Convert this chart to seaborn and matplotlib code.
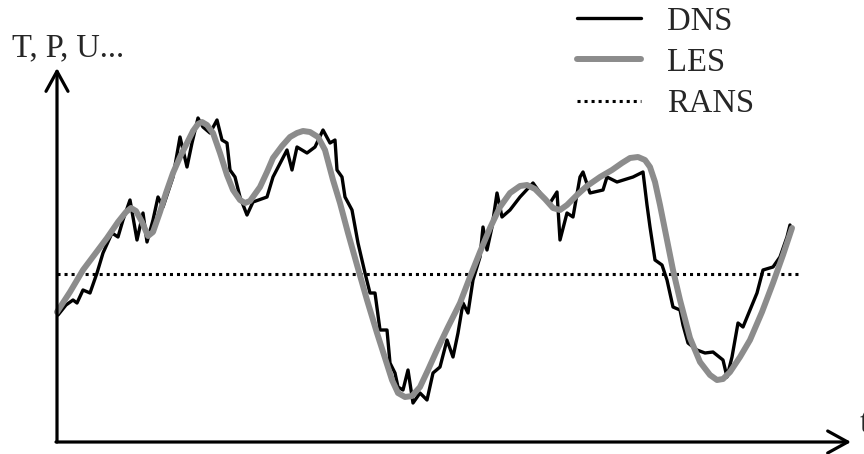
import matplotlib
matplotlib.use("Agg")
import matplotlib.pyplot as plt
import seaborn as sns
from matplotlib.lines import Line2D

# values (time, signal), arbitrary units
dns_t = [1, 9, 16, 20, 26, 33, 40, 46, 55, 61, 66, 73, 80, 86, 90, 96, 101, 106,
         116, 123, 130, 135, 141, 146, 153, 160, 165, 170, 173, 178, 183, 190, 196,
         210, 216, 230, 235, 240, 250, 258, 266, 273, 278, 280, 285, 288, 295, 301,
         308, 313, 318, 323, 330, 333, 338, 341, 346, 351, 356, 363, 370, 376, 383,
         390, 396, 401, 406, 411, 416, 423, 426, 430, 435, 440, 445, 453, 463, 476,
         486, 493, 500, 503, 510, 516, 523, 526, 533, 546, 550, 560, 576, 586, 590,
         593, 598, 605, 610, 616, 623, 626, 631, 640, 648, 656, 666, 670, 675, 681,
         686, 693, 700, 706, 716, 723, 730, 733]
dns_u = [127, 137, 142, 139, 152, 149, 169, 189, 209, 205, 222, 242, 202, 229, 200,
         222, 245, 235, 265, 305, 275, 299, 324, 315, 309, 322, 302, 299, 272, 265,
         245, 227, 240, 245, 265, 292, 272, 295, 289, 295, 312, 299, 302, 272, 265,
         245, 232, 199, 169, 149, 149, 112, 112, 79, 69, 55, 52, 72, 39, 49, 42, 69,
         75, 102, 85, 109, 139, 129, 162, 185, 215, 192, 215, 249, 225, 232, 245, 259,
         245, 239, 250, 202, 229, 225, 265, 270, 249, 252, 265, 260, 265, 270, 237,
         215, 182, 177, 162, 135, 132, 117, 99, 92, 89, 90, 82, 65, 85, 119, 115, 132,
         149, 172, 175, 185, 205, 217]

les_t = [0, 13, 26, 38, 50, 61, 69, 74, 79, 85, 91, 96, 103, 109, 116, 123, 130,
         136, 141, 145, 150, 156, 163, 170, 176, 183, 188, 193, 203, 210, 216, 225,
         233, 240, 246, 253, 261, 268, 276, 283, 291, 300, 310, 320, 328, 335, 341,
         348, 355, 363, 371, 380, 391, 403, 413, 423, 433, 443, 453, 463, 470, 478,
         488, 496, 503, 510, 520, 530, 543, 555, 565, 573, 581, 588, 593, 598, 603,
         610, 616, 623, 633, 643, 653, 660, 666, 673, 683, 693, 705, 716, 726, 735]
les_u = [130, 150, 172, 188, 204, 220, 230, 234, 231, 220, 206, 210, 230, 249, 269,
         285, 299, 311, 318, 320, 317, 309, 289, 267, 252, 242, 239, 241, 255, 270,
         284, 296, 305, 309, 311, 310, 305, 292, 262, 239, 209, 177, 142, 109, 84, 62,
         49, 45, 46, 55, 72, 92, 115, 139, 165, 190, 214, 235, 249, 256, 257, 253, 243,
         234, 232, 237, 247, 256, 265, 272, 279, 284, 285, 282, 275, 260, 237, 202,
         172, 142, 104, 80, 67, 62, 63, 70, 85, 102, 130, 159, 187, 214]

rans_t = [0, 741]
rans_u = [168, 168]

y_label = "T, P, U..."
x_label = "t"
series_names = ["DNS", "LES", "RANS"]

sns.set_style("white")
plt.rcParams['font.family'] = ['Liberation Serif', 'DejaVu Serif']

fig = plt.figure(figsize=(8.64, 4.54), dpi=100)
ax = fig.add_axes([0, 0, 1, 1])
ax.set_xlim(-57, 807)
ax.set_ylim(-12, 442)
ax.axis("off")

gray = "#8c8c8c"
dotted = (0, (1, 1.3))
sns.lineplot(x=rans_t, y=rans_u, ax=ax, color="black", lw=2.2,
             linestyle=dotted, dash_capstyle="butt", sort=False, estimator=None)
sns.lineplot(x=dns_t, y=dns_u, ax=ax, color="black", lw=2.4, sort=False, estimator=None)
sns.lineplot(x=les_t, y=les_u, ax=ax, color=gray, lw=4.3, sort=False, estimator=None,
             solid_capstyle="round", solid_joinstyle="round")

# axes with arrows
arrow = dict(arrowstyle="->,head_length=0.4,head_width=0.22", lw=2.3, color="black",
             mutation_scale=36, shrinkA=0, shrinkB=0)
ax.annotate("", xy=(0, 374), xytext=(0, 0), arrowprops=arrow)
ax.annotate("", xy=(794, 0), xytext=(-1, 0), arrowprops=arrow)

fs = 23.5
fig.text(12 / 864, 1 - 56 / 454, y_label, fontsize=fs, va="baseline", ha="left")
fig.text(860 / 864, 1 - 432 / 454, x_label, fontsize=fs, va="baseline", ha="left")

handles = [Line2D([], [], color="black", lw=2.4),
           Line2D([], [], color=gray, lw=4.3),
           Line2D([], [], color="black", lw=2.2, linestyle=dotted)]
ax.legend(handles, series_names, loc="upper left", bbox_to_anchor=(577 / 864, 1 - 6 / 454),
          bbox_transform=fig.transFigure, frameon=False, fontsize=fs, borderpad=0,
          borderaxespad=0, handlelength=1.95, handletextpad=0.8, labelspacing=0.33)

fig.savefig("out.png", dpi=100)
